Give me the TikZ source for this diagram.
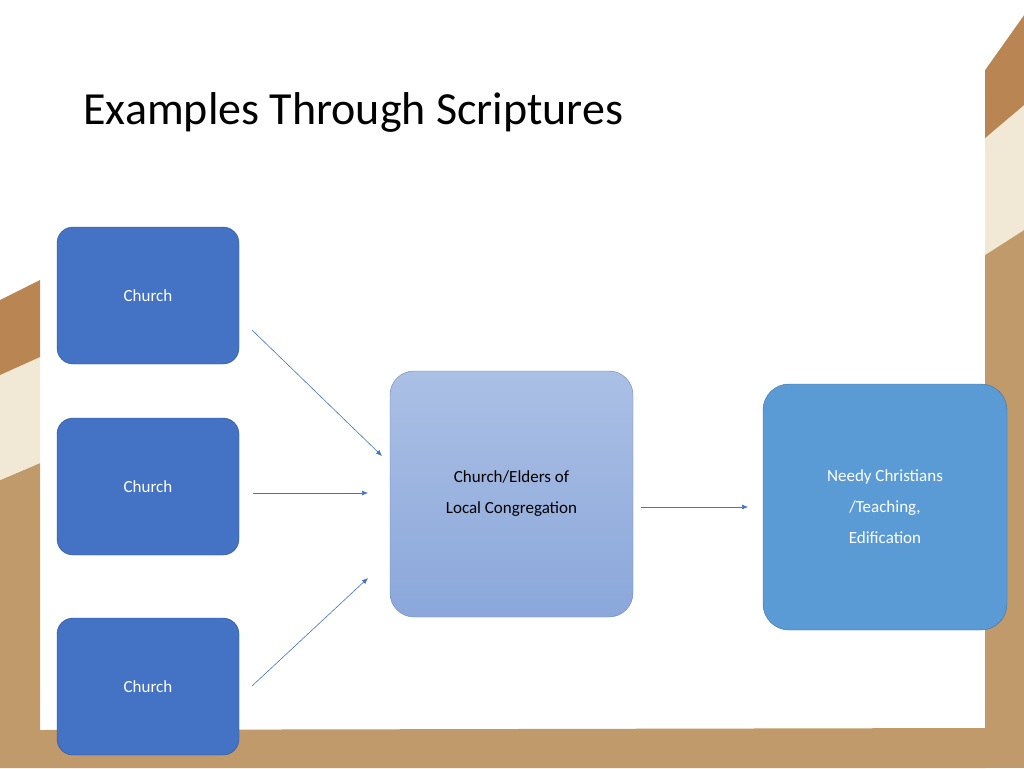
\documentclass[tikz,border=0pt]{standalone}
\usepackage{fontspec}
\setmainfont{Carlito}
\usetikzlibrary{arrows.meta}
\definecolor{dbrown}{HTML}{B98552}
\definecolor{tan}{HTML}{C09A6B}
\definecolor{cream}{HTML}{F1E9D6}
\definecolor{cblue}{HTML}{4472C4}
\definecolor{cedge}{HTML}{2F528F}
\definecolor{rblue}{HTML}{5B9BD5}
\definecolor{redge}{HTML}{41719C}
\tikzset{
 churchbox/.style={draw=cedge,fill=cblue,rounded corners=16pt,minimum width=182pt,minimum height=137pt,text=white,font=\fontsize{17}{21}\selectfont,align=center},
 arr/.style={draw=cblue,line width=0.6pt,-{Latex[length=6pt,width=5pt]}}
}
\begin{document}
\begin{tikzpicture}[x=1pt,y=-1pt]
\useasboundingbox (0,0) rectangle (1024,768);
\fill[tan] (0,0) rectangle (1024,768);
\fill[white] (0,0) rectangle (985,768);
% left strips
\fill[tan] (0,480) -- (40,463) -- (40,690) -- (0,690) -- cycle;
\fill[cream] (0,375) -- (40,357) -- (40,463) -- (0,480) -- cycle;
\fill[dbrown] (0,300) -- (40,280) -- (40,357) -- (0,375) -- cycle;
% right strips
\fill[cream] (985,138) -- (1024,105) -- (1024,230) -- (985,255) -- cycle;
\fill[dbrown] (985,70) -- (1024,15) -- (1024,105) -- (985,138) -- cycle;
\fill[white] (1024,0) -- (1024,15) -- (985,70) -- (985,0) -- cycle;
% bottom band
\fill[tan] (0,690) -- (40,690) -- (40,730) -- (985,728) -- (985,768) -- (0,768) -- cycle;
\node[anchor=west,font=\fontsize{46}{52}\selectfont] (title) at (80,112) {Examples Through Scriptures};
\node[churchbox] (c1) at (148,295.5) {Church};
\node[churchbox] (c2) at (148,486.5) {Church};
\node[churchbox] (c3) at (148,686.5) {Church};
\node[draw=cedge!70,top color=cblue!45,bottom color=cblue!62,rounded corners=24pt,minimum width=243pt,minimum height=246pt,align=center,font=\fontsize{17}{31}\selectfont] (mid) at (511.5,494) {Church/Elders of\\Local Congregation};
\node[draw=redge,fill=rblue,rounded corners=26pt,minimum width=244pt,minimum height=246pt,align=center,text=white,font=\fontsize{17}{31}\selectfont] (need) at (885,507) {Needy Christians\\/Teaching,\\Edification};
\coordinate (a1s) at (252,330); \coordinate (a1e) at (382,456);
\coordinate (a2s) at (253,493); \coordinate (a2e) at (368,493);
\coordinate (a3s) at (252,686); \coordinate (a3e) at (368,578);
\coordinate (a4s) at (641,507); \coordinate (a4e) at (748,507);
\draw[arr] (a1s) -- (a1e);
\draw[arr] (a2s) -- (a2e);
\draw[arr] (a3s) -- (a3e);
\draw[arr] (a4s) -- (a4e);
\end{tikzpicture}
\end{document}
